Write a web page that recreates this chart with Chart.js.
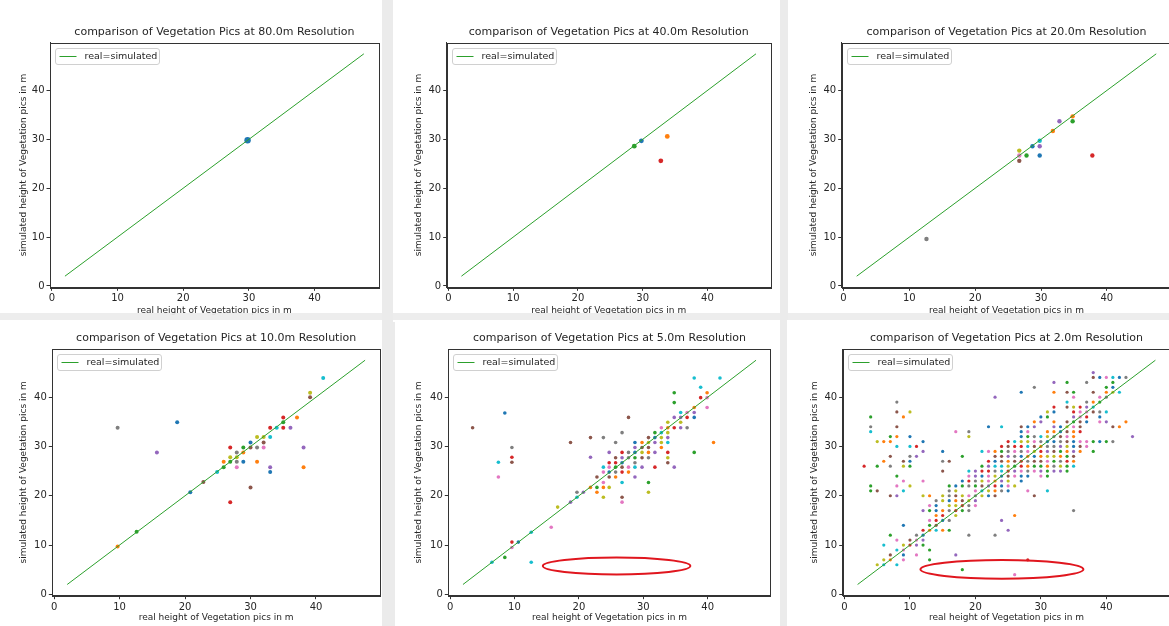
<!DOCTYPE html>
<html>
<head>
<meta charset="utf-8">
<script src="https://cdn.jsdelivr.net/npm/chart.js@4.4.0/dist/chart.umd.min.js"></script>
<style>
  body { margin: 0; width: 1169px; height: 626px; overflow: hidden; background: #ebebeb; position: relative; }
  canvas { position: absolute; background: #fff; }
  .band { position: absolute; left: 0; top: 313px; width: 1169px; height: 7px; background: rgba(235,235,235,0.9); z-index: 5; }
</style>
</head>
<body>
<canvas id="p80"></canvas>
<canvas id="p40"></canvas>
<canvas id="p20"></canvas>
<div class="band"></div>
<canvas id="p10"></canvas>
<canvas id="p5"></canvas>
<canvas id="p2"></canvas>
<script>
var FONT = "'DejaVu Sans', sans-serif";
var tab10 = ['#1f77b4', '#ff7f0e', '#2ca02c', '#d62728', '#9467bd', '#8c564b', '#e377c2', '#7f7f7f', '#bcbd22', '#17becf'];

// axes
var tickVals = [0, 10, 20, 30, 40];
var axisRange = [-0.275, 49.775];
var lineEnds = [2, 47.5];
var resolutions = ['80.0', '40.0', '20.0', '10.0', '5.0', '2.0'];
var xLabel = 'real height of Vegetation pics in m';
var yLabel = 'simulated height of Vegetation pics in m';

// [real, simulated] per pic
var pts80 = [[29.8, 29.8]];
var pts40 = [[29.8, 29.7], [33.8, 30.6], [28.7, 28.6], [32.8, 25.6]];
var pts20 = [[29.8, 26.7], [31.8, 31.7], [27.8, 26.7], [37.8, 26.7], [29.8, 28.6], [26.7, 25.6], [26.7, 26.7],
  [12.6, 9.6], [26.7, 27.7], [29.8, 29.7], [28.7, 28.6], [34.8, 34.7], [34.8, 33.7], [32.8, 33.7]];
var pts10 = [[9.7, 9.7], [12.6, 12.7], [9.7, 33.8], [15.7, 28.8], [18.8, 34.9], [20.8, 20.7], [22.8, 22.8],
  [24.9, 24.8], [25.9, 25.8], [25.9, 26.9], [26.9, 29.8], [26.9, 27.8], [26.9, 26.9], [26.9, 18.7],
  [27.9, 28.8], [27.9, 25.8], [27.9, 26.9], [27.9, 27.8], [28.9, 29.8], [28.9, 28.8], [28.9, 26.9],
  [30, 30.8], [30, 29.8], [30, 21.7], [31, 31.9], [31, 29.8], [31, 26.9], [32, 31.9], [32, 30.8], [32, 29.8],
  [33, 33.8], [33, 31.9], [33, 25.8], [33, 24.8], [34, 33.8], [35, 35.9], [35, 33.8], [35, 34.9],
  [36.1, 33.8], [37.1, 35.9], [38.1, 29.8], [38.1, 25.8], [39.1, 40.9], [39.1, 40], [41.1, 43.9]];
var pts5 = [[3.5, 33.8], [8.5, 36.8], [9.6, 29.8], [9.6, 27.8], [9.6, 26.8], [7.5, 26.8], [7.5, 23.8],
  [18.7, 30.8], [21.8, 31.8], [23.8, 31.8], [21.8, 27.8], [23.8, 25.8], [23.8, 24.8], [22.8, 23.8],
  [23.8, 22.7], [23.8, 21.7], [23.8, 19.7], [21.8, 21.7], [22.8, 20.7], [19.7, 20.7], [20.7, 20.7],
  [19.7, 19.7], [16.7, 17.7], [18.7, 18.7], [15.7, 13.6], [12.6, 12.6], [9.6, 10.6], [10.6, 10.6],
  [9.6, 9.5], [8.5, 7.5], [6.5, 6.5], [12.6, 6.5],
  [37.9, 43.9], [41.9, 43.9], [38.9, 42], [39.9, 40.9], [38.9, 39.9], [39.9, 39.9], [39.9, 37.9],
  [34.8, 40.9], [34.8, 38.9], [35.8, 36.9], [37.9, 37.9], [37.9, 36.9], [37.9, 35.9], [36.8, 35.9],
  [36.8, 33.8], [35.8, 35.9], [35.8, 34.9], [35.8, 33.8], [34.8, 33.8], [34.8, 35.9], [33.8, 34.9],
  [32.8, 33.8], [33.8, 33.8], [33.8, 32.8], [33.8, 31.8], [33.8, 30.8], [33.8, 28.8], [33.8, 27.7],
  [33.8, 26.7], [34.8, 25.8], [31.8, 32.8], [32.8, 31.8], [30.8, 31.8], [31.8, 31.8], [32.8, 30.8],
  [32.8, 29.8], [29.8, 30.8], [30.8, 30.8], [28.7, 30.8], [28.7, 29.8], [30.8, 29.8], [29.8, 28.8],
  [31.8, 28.8], [30.8, 27.7], [29.8, 27.7], [28.7, 28.8], [28.7, 27.7], [28.7, 26.7], [28.7, 25.8],
  [29.8, 25.8], [31.8, 25.8], [27.7, 35.9], [26.7, 32.8], [25.7, 30.8], [24.7, 28.8], [25.7, 27.7],
  [26.7, 28.8], [26.7, 27.7], [27.7, 28.8], [27.7, 27.7], [24.7, 26.7], [24.7, 25.8], [25.7, 26.7],
  [25.7, 25.8], [26.7, 25.8], [26.7, 24.8], [25.7, 24.8], [27.7, 24.8], [24.7, 23.8], [25.7, 23.8],
  [28.7, 23.8], [24.7, 21.7], [26.7, 22.7], [26.7, 19.7], [26.7, 18.7], [30.8, 22.7], [30.8, 20.7],
  [37.9, 28.8], [40.9, 30.8], [26.7, 26.7], [27.7, 25.8], [29.8, 29.8], [30.8, 28.8], [22.8, 21.7],
  [24.7, 24.8], [31.8, 30.8], [32.8, 32.8], [36.8, 36.9]];
// 2 m: rows of [simulated, [real ...]]
var rows2 = [
  [45, [38]],
  [44, [38, 39, 40, 41, 42, 43]],
  [43, [32, 34, 37, 41]],
  [42, [29, 40, 41]],
  [41, [27, 32, 34, 35, 38, 40, 41, 42]],
  [40, [23, 35, 39, 40]],
  [39, [8, 34, 37, 38, 39]],
  [38, [32, 34, 35, 36, 37, 38]],
  [37, [8, 10, 31, 32, 35, 36, 37, 38, 39, 40]],
  [36, [4, 9, 30, 31, 35, 36, 37, 39]],
  [35, [29, 30, 32, 34, 35, 36, 37, 39, 40, 43]],
  [34, [4, 8, 22, 24, 27, 28, 29, 32, 33, 34, 35, 36, 41, 42]],
  [33, [4, 17, 19, 27, 28, 31, 32, 33, 34, 35, 36]],
  [32, [7, 8, 10, 19, 27, 28, 29, 30, 31, 32, 33, 34, 35, 44]],
  [31, [5, 6, 7, 12, 25, 26, 27, 28, 29, 30, 31, 32, 33, 34, 35, 36, 37, 38, 39, 40, 41]],
  [30, [8, 10, 11, 24, 25, 26, 27, 28, 29, 30, 31, 32, 33, 34, 35, 36, 37]],
  [29, [12, 15, 21, 22, 23, 24, 25, 26, 27, 28, 29, 30, 31, 32, 33, 34, 35, 36, 38]],
  [28, [7, 10, 11, 18, 23, 24, 25, 26, 27, 28, 29, 30, 31, 32, 33, 34, 35]],
  [27, [6, 9, 10, 15, 16, 22, 23, 24, 25, 26, 27, 28, 29, 30, 31, 32, 33, 34, 35]],
  [26, [3, 5, 7, 9, 10, 21, 22, 23, 24, 25, 26, 27, 28, 29, 30, 31, 32, 33, 34, 35]],
  [25, [15, 19, 20, 21, 22, 23, 24, 25, 26, 27, 28, 29, 30, 31, 32, 33, 34]],
  [24, [8, 19, 20, 21, 22, 23, 24, 25, 26, 27, 28, 30, 31]],
  [23, [9, 12, 18, 19, 20, 21, 22, 23, 24, 25, 27]],
  [22, [4, 8, 10, 16, 17, 18, 19, 20, 21, 22, 23, 24, 25, 26]],
  [21, [4, 5, 9, 16, 17, 20, 21, 22, 23, 24, 25, 28, 31]],
  [20, [7, 8, 12, 13, 15, 16, 17, 18, 19, 20, 21, 22, 23, 29]],
  [19, [14, 15, 16, 17, 18, 19, 20]],
  [18, [13, 14, 16, 17, 18, 19, 20]],
  [17, [12, 13, 14, 15, 16, 17, 18, 19, 35]],
  [16, [14, 15, 17, 26]],
  [15, [13, 14, 15, 16, 24]],
  [14, [9, 13, 14]],
  [13, [12, 13, 14, 15, 16, 25]],
  [12, [7, 11, 12, 19, 23]],
  [11, [8, 10, 11, 12]],
  [10, [6, 9, 10, 11, 12]],
  [9, [8, 9, 13]],
  [8, [7, 9, 11, 17]],
  [7, [6, 7, 9, 13, 28]],
  [6, [5, 6, 8]],
  [5, [18]],
  [4, [26]]
];
var pts2 = [];
rows2.forEach(function (r) {
  r[1].forEach(function (x) { pts2.push([x, r[0]]); });
});

var colors20 = [0, 1, 2, 3, 4, 5, 6, 7, 8, 9, 0, 1, 2, 4];
var colors10 = [1, 2, 7, 4, 0, 0, 5, 9, 2, 1, 3, 8, 2, 3, 7, 6, 7, 8, 2, 1, 0, 0, 5, 5, 8, 7, 1, 8, 5, 6,
  3, 9, 4, 0, 9, 3, 3, 2, 4, 1, 4, 1, 8, 5, 9];

function pickColor(p, i, list) {
  if (list) return tab10[list[i % list.length]];
  var a = Math.round(p[0] * 10), b = Math.round(p[1] * 10);
  var h = Math.imul((a * 73856093) ^ (b * 19349663), 0x9E3779B1) >>> 0;
  return tab10[(h >>> 9) % 10];
}

function axis(label, fit) {
  return {
    type: 'linear',
    min: axisRange[0],
    max: axisRange[1],
    afterBuildTicks: function (s) { s.ticks = tickVals.map(function (v) { return { value: v }; }); },
    afterFit: fit,
    ticks: { font: { family: FONT, size: 10 }, color: '#262626', padding: 2, maxRotation: 0, autoSkip: false },
    grid: { drawOnChartArea: false, drawTicks: true, tickLength: 3.5, color: '#333', lineWidth: 1 },
    border: { display: true, color: '#333', width: 1 },
    title: { display: true, text: label, font: { family: FONT, size: 9 }, color: '#262626', padding: 0 }
  };
}

function makePanel(cfg) {
  var canvas = document.getElementById(cfg.id);
  var bx = cfg.box[0], by = cfg.box[1], bw = cfg.box[2], bh = cfg.box[3];
  canvas.style.left = bx + 'px';
  canvas.style.top = by + 'px';
  canvas.width = bw;
  canvas.height = bh;
  var L = cfg.area[0], T = cfg.area[1], R = cfg.area[2], B = cfg.area[3];
  var padLeft = cfg.yTitleX - 5.4 - bx;
  var yW = L - bx - padLeft;
  var t1 = cfg.titleY - by - 6.6;
  var t2 = T - by - t1 - 13.2;
  var scaleBottom = cfg.xTitleY + 5.4;
  var padBottom = by + bh - scaleBottom;
  var xH = scaleBottom - B;
  var padRight = bx + bw - R;

  var deco = {
    id: 'deco' + cfg.id,
    afterDatasetsDraw: function (chart) {
      if (!cfg.ring) return;
      var ctx = chart.ctx, xs = chart.scales.x, ys = chart.scales.y;
      var cx = xs.getPixelForValue(cfg.ring[0]), cy = ys.getPixelForValue(cfg.ring[1]);
      var rx = xs.getPixelForValue(cfg.ring[0] + cfg.ring[2]) - cx;
      var ry = cy - ys.getPixelForValue(cfg.ring[1] + cfg.ring[3]);
      ctx.save();
      ctx.strokeStyle = '#e0161e';
      ctx.lineWidth = 2;
      ctx.beginPath();
      ctx.ellipse(cx, cy, rx, ry, 0, 0, Math.PI * 2);
      ctx.stroke();
      ctx.restore();
    },
    afterDraw: function (chart) {
      var a = chart.chartArea, ctx = chart.ctx;
      ctx.save();
      ctx.strokeStyle = '#333';
      ctx.lineWidth = 1;
      ctx.strokeRect(Math.round(a.left) + 0.5, Math.round(a.top) + 0.5, Math.round(a.right - a.left), Math.round(a.bottom - a.top));
      // legend
      var x = Math.round(a.left) + 5.5, y = Math.round(a.top) + 5.5, w = 104, h = 16;
      ctx.fillStyle = 'rgba(255,255,255,0.85)';
      ctx.strokeStyle = '#d0d0d0';
      ctx.beginPath();
      ctx.roundRect(x, y, w, h, 2.5);
      ctx.fill();
      ctx.stroke();
      ctx.strokeStyle = '#2ca02c';
      ctx.beginPath();
      ctx.moveTo(x + 4, y + 8);
      ctx.lineTo(x + 21, y + 8);
      ctx.stroke();
      ctx.fillStyle = '#262626';
      ctx.font = '9.5px ' + FONT;
      ctx.textBaseline = 'middle';
      ctx.fillText(chart.data.datasets[0].label, x + 29, y + 8.5);
      ctx.restore();
    }
  };

  new Chart(canvas, {
    type: 'scatter',
    data: {
      datasets: [{
        type: 'line',
        label: 'real=simulated',
        data: lineEnds.map(function (v) { return { x: v, y: v }; }),
        borderColor: '#2ca02c',
        borderWidth: 1,
        pointRadius: 0,
        order: 0
      }, {
        type: 'scatter',
        label: 'pics',
        data: cfg.pts.map(function (p) { return { x: p[0], y: p[1] }; }),
        backgroundColor: cfg.pts.map(function (p, i) { return pickColor(p, i, cfg.colors); }),
        borderWidth: 0,
        pointRadius: cfg.radius,
        pointHoverRadius: cfg.radius,
        order: 1
      }]
    },
    options: {
      responsive: false,
      animation: false,
      devicePixelRatio: 1,
      events: [],
      layout: { padding: { left: padLeft, right: padRight, top: 0, bottom: padBottom } },
      scales: {
        x: axis(xLabel, function (s) { s.height = xH; }),
        y: axis(yLabel, function (s) { s.width = yW; })
      },
      plugins: {
        legend: { display: false },
        tooltip: { enabled: false },
        title: {
          display: true,
          fullSize: false,
          text: 'comparison of Vegetation Pics at ' + cfg.res + 'm Resolution',
          font: { family: FONT, size: 11, weight: 'normal' },
          color: '#262626',
          padding: { top: t1, bottom: t2 }
        }
      }
    },
    plugins: [deco]
  });
}

makePanel({ id: 'p80', res: resolutions[0], pts: pts80, radius: 3.2, colors: [0],
  box: [0, 0, 382, 322], area: [50, 42.7, 380, 287.3], yTitleX: 23.3, titleY: 32.3, xTitleY: 311 });
makePanel({ id: 'p40', res: resolutions[1], pts: pts40, radius: 2.4, colors: [0, 1, 2, 3],
  box: [393, 0, 387, 322], area: [446.7, 42.7, 770.7, 287.3], yTitleX: 419, titleY: 32.3, xTitleY: 311 });
makePanel({ id: 'p20', res: resolutions[2], pts: pts20, radius: 2.2, colors: colors20,
  box: [788, 0, 392, 322], area: [841.7, 42.7, 1171.2, 287.3], yTitleX: 813.3, titleY: 32.3, xTitleY: 311 });
makePanel({ id: 'p10', res: resolutions[3], pts: pts10, radius: 2, colors: colors10,
  box: [0, 320, 382, 306], area: [52.3, 349, 380, 595.7], yTitleX: 23.3, titleY: 338, xTitleY: 618 });
makePanel({ id: 'p5', res: resolutions[4], pts: pts5, radius: 1.8, ring: [25.85, 5.75, 11.45, 1.7],
  box: [395, 320, 385, 306], area: [448.3, 349, 770.7, 595.7], yTitleX: 418.3, titleY: 338, xTitleY: 618 });
makePanel({ id: 'p2', res: resolutions[5], pts: pts2, radius: 1.6, ring: [24.05, 5.07, 12.45, 1.9],
  box: [787, 320, 393, 306], area: [842.7, 349, 1170.3, 595.7], yTitleX: 814.3, titleY: 338, xTitleY: 618 });
</script>
</body>
</html>
